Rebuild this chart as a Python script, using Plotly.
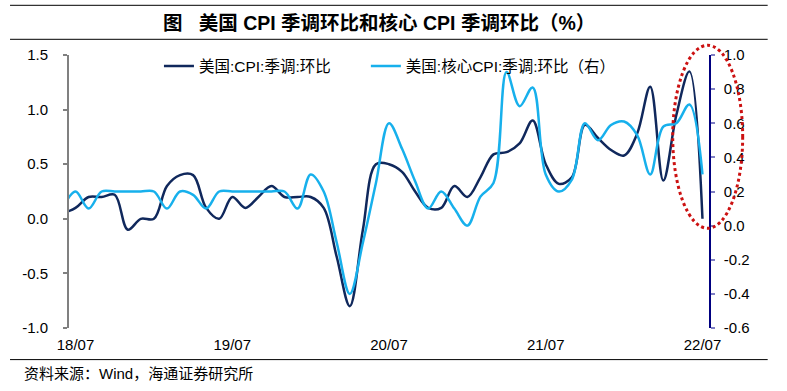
import pandas as pd
import plotly.graph_objects as go

# ---- data ----
months = [p.strftime("%y/%m") for p in pd.period_range("2018-06", "2022-07", freq="M")]
cpi_mom = [0.05, 0.1, 0.2, 0.2, 0.22, -0.1, 0.0, 0.0, 0.3, 0.4, 0.4, 0.1, 0.0,
           0.2, 0.1, 0.2, 0.3, 0.2, 0.2, 0.2, 0.1, -0.35, -0.8, -0.1, 0.5,
           0.5, 0.43, 0.25, 0.1, 0.1, 0.3, 0.2, 0.38, 0.59, 0.61, 0.69, 0.9,
           0.5, 0.32, 0.38, 0.86, 0.74, 0.63, 0.58, 0.78, 1.21, 0.35, 0.95, 1.35, 0.0]
core_mom = [0.1, 0.2, 0.1, 0.2, 0.2, 0.2, 0.2, 0.2, 0.1, 0.2, 0.18, 0.1, 0.2,
            0.2, 0.2, 0.2, 0.2, 0.2, 0.1, 0.3, 0.2, -0.1, -0.4, -0.1, 0.25,
            0.6, 0.45, 0.26, 0.1, 0.2, 0.1, 0.0, 0.17, 0.25, 0.9, 0.7, 0.81,
            0.3, 0.2, 0.27, 0.6, 0.5, 0.59, 0.61, 0.53, 0.3, 0.58, 0.6, 0.71, 0.3]
x_ticks = ["18/07", "19/07", "20/07", "21/07", "22/07"]
left_ticks = [-1.0, -0.5, 0.0, 0.5, 1.0, 1.5]
right_ticks = [-0.6, -0.4, -0.2, 0.0, 0.2, 0.4, 0.6, 0.8, 1.0]
name_cpi = "美国:CPI:季调:环比"
name_core = "美国:核心CPI:季调:环比（右）"
title_text = "图\u00a0\u00a0\u00a0美国 CPI 季调环比和核心 CPI 季调环比（%）"
source_text = "资料来源：Wind，海通证券研究所"

DARK = "#10285c"
LIGHT = "#17b0ec"
FONT = "Liberation Sans, Arial, Noto Sans CJK SC"

W, H = 787, 391
L, R, T, B = 69, 709.3, 54.7, 327.7
pw, ph = R - L, B - T


def px(x):
    return (x - L) / pw


def py(y):
    return (B - y) / ph


def fmt(v):
    return f"{v:.1f}".replace("\u2212", "-")


fig = go.Figure()
fig.add_trace(go.Scatter(x=months, y=cpi_mom, name=name_cpi, mode="lines",
                         line=dict(color=DARK, width=2.5, shape="spline", smoothing=1),
                         yaxis="y", legend="legend", hoverinfo="skip"))
fig.add_trace(go.Scatter(x=months, y=core_mom, name=name_core, mode="lines",
                         line=dict(color=LIGHT, width=2.5, shape="spline", smoothing=1),
                         yaxis="y2", legend="legend2", hoverinfo="skip"))

n = len(months)
boundary_ticks = [months.index(t) - 0.5 for t in x_ticks]

fig.update_layout(
    width=W, height=H,
    margin=dict(l=L, r=W - R, t=T, b=H - B, pad=0),
    paper_bgcolor="white", plot_bgcolor="white",
    font=dict(family=FONT, size=15, color="black"),
    showlegend=True,
    xaxis=dict(type="category", range=[0.5, n - 0.5], tickmode="array",
               tickvals=x_ticks, ticktext=x_ticks, showline=False, showgrid=False,
               zeroline=False, ticks="", ticklabelstandoff=6,
               tickfont=dict(size=15, family=FONT)),
    xaxis2=dict(overlaying="x", anchor="free", position=0.4, type="linear",
                range=[0.5, n - 0.5], tickmode="array", tickvals=boundary_ticks,
                showticklabels=False, showline=True, linecolor="#808080", linewidth=2,
                ticks="outside", ticklen=4, tickwidth=1, tickcolor="#808080",
                showgrid=False, zeroline=False),
    yaxis=dict(range=[-1.0, 1.5], tickmode="array", tickvals=left_ticks,
               ticktext=[fmt(v) for v in left_ticks], showline=True,
               linecolor="#808080", linewidth=2, ticks="outside", ticklen=4,
               tickwidth=1.5, tickcolor="#808080", showgrid=False, zeroline=False,
               ticklabelstandoff=12, tickfont=dict(size=15, family=FONT)),
    yaxis2=dict(range=[-0.6, 1.0], overlaying="y", side="right", anchor="x",
                tickmode="array", tickvals=right_ticks,
                ticktext=[fmt(v) for v in right_ticks], showline=True,
                linecolor="#000080", linewidth=1.6, ticks="outside", ticklen=4,
                tickwidth=1.5, tickcolor="#7f7fc4", showgrid=False, zeroline=False,
                ticklabelstandoff=6, tickfont=dict(size=15, family=FONT)),
    legend=dict(x=px(159), y=py(66), xanchor="left", yanchor="middle",
                orientation="h", bgcolor="rgba(0,0,0,0)", borderwidth=0,
                font=dict(size=15.5, family=FONT, color="black")),
    legend2=dict(x=px(366), y=py(66), xanchor="left", yanchor="middle",
                 orientation="h", bgcolor="rgba(0,0,0,0)", borderwidth=0,
                 font=dict(size=15.5, family=FONT, color="black")),
)

# title and source
fig.add_annotation(text="<b>" + title_text + "</b>", xref="paper", yref="paper",
                   x=px(161), y=py(22.5), xanchor="left", yanchor="middle",
                   showarrow=False, font=dict(size=19.5, family=FONT, color="black"))
fig.add_annotation(text=source_text, xref="paper", yref="paper",
                   x=px(22), y=py(372.7), xanchor="left", yanchor="middle",
                   showarrow=False, font=dict(size=15, family=FONT, color="black"))

# frame lines
for yy in (5, 39, 359.3):
    fig.add_shape(type="line", xref="paper", yref="paper", x0=px(10), x1=px(768),
                  y0=py(yy), y1=py(yy), line=dict(color="black", width=1))

# red dotted ellipse highlight
fig.add_shape(type="circle", xref="paper", yref="paper",
              x0=px(673), x1=px(743), y0=py(228), y1=py(45),
              line=dict(color="#cc1111", width=3, dash="dot"))

fig.write_html("out.html", config={"displayModeBar": False},
               post_script="document.body.style.margin='0';document.body.style.padding='0';")
